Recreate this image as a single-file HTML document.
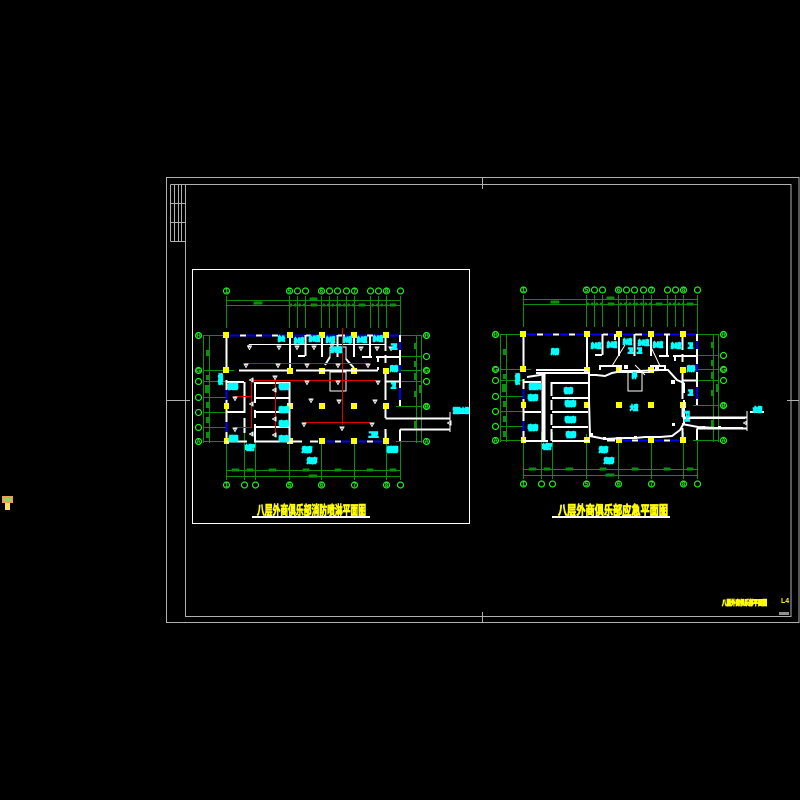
<!DOCTYPE html>
<html><head><meta charset="utf-8"><title>八层外商俱乐部平面图</title>
<style>html,body{margin:0;padding:0;background:#000;width:800px;height:800px;overflow:hidden}svg{display:block}
.g{stroke:#0b900b;stroke-width:1;fill:none;shape-rendering:crispEdges}.b{stroke:#1cf01c;stroke-width:1.2;fill:#000}.n{fill:#1cf01c;font:bold 6px "Liberation Sans",sans-serif;text-anchor:middle}.w{stroke:#fff;fill:none;stroke-width:2}.t{stroke:#fff;fill:none;stroke-width:1}.r{stroke:#e00000;fill:none;stroke-width:1;shape-rendering:crispEdges}.bl{stroke:#0000f0;fill:none;stroke-width:2;shape-rendering:crispEdges}
.c{fill:#0ff;stroke:#0ff;stroke-width:1.5;font:bold 6px "Liberation Sans","Noto Sans CJK SC",sans-serif}
.d{fill:#0b900b;stroke:#0b900b;stroke-width:1.2;font:bold 3px "Liberation Sans",sans-serif}
.y{fill:#ff0;stroke:#ff0;stroke-width:.8;font:bold 13px "Noto Sans CJK SC",sans-serif}</style></head>
<body><svg width="800" height="800" viewBox="0 0 800 800" xmlns="http://www.w3.org/2000/svg">
<defs>
<g id="h"><path class="t" d="M-2.5 0H2.5M0 0V4"/><path d="M-1.5 1L1.5 1L0 3.5Z" fill="#000" stroke="#fff" stroke-width=".8"/></g>
<g id="hl"><path class="t" d="M0 -2.5V2.5M0 0H-4"/><path d="M-1 -1.5V1.5L-3.5 0Z" fill="#000" stroke="#fff" stroke-width=".8"/></g>
<g id="plan">
<path class="g" d="M226.5 296V328M289.5 296V328M297.5 296V328M305.5 296V328M321.5 296V328M329.5 296V328M337.5 296V328M346.5 296V328M354.5 296V328M370.5 296V328M378.5 296V328M386.5 296V328M400.5 296V335"/>
<path class="g" d="M226 300.5H400M226 305.5H400M226.5 380V480M244.5 433V480M255.5 433V480M289.5 435V480M321.5 441V480M354.5 441V480M386.5 433V480M400.5 433V480M226 470.5H400M226 476.5H400"/>
<path class="g" d="M203 335.5H226M203 370.5H234M203 381.5H226M203 397.5H226M203 412.5H226M203 427.5H226M203 441.5H234M203.5 335V443M209.5 335V443M396 335.5H422M396 356.5H422M396 370.5H422M396 381.5H422M396 406.5H422M396 441.5H422M416.5 335V443M421.5 335V443"/>
<g class="d">
<text x="254" y="304" textLength="8">24000</text><text x="310" y="300" textLength="7">24000</text><text x="290" y="306" textLength="15">6000</text><text x="311" y="306" textLength="6">6000</text><text x="323" y="306" textLength="15">6000</text><text x="339" y="306" textLength="15">6000</text><text x="359" y="306" textLength="6">6000</text><text x="372" y="306" textLength="15">6000</text><text x="390" y="306" textLength="6">6000</text>
<text x="232" y="471" textLength="7">6000</text><text x="247" y="471" textLength="6">6000</text><text x="269" y="471" textLength="7">6000</text><text x="303" y="471" textLength="6">6000</text><text x="335" y="471" textLength="6">6000</text><text x="367" y="471" textLength="6">6000</text><text x="390" y="471" textLength="6">6000</text><text x="309" y="477" textLength="8">24000</text>
</g>
<path d="M206 350h3v6h-3zM206 375h3v5h-3zM205 385h4v8h-4zM206 402h3v6h-3zM206 417h3v6h-3zM206 432h3v6h-3zM414 343h3v6h-3zM414 361h3v6h-3zM414 373h3v7h-3zM419 385h3v8h-3zM414 391h3v6h-3zM414 421h3v7h-3z" fill="#0b900b"/>
<g class="b">
<circle cx="226.5" cy="291" r="3"/><circle cx="289.5" cy="291" r="3"/><circle cx="297.5" cy="291" r="3"/><circle cx="305.5" cy="291" r="3"/><circle cx="321.5" cy="291" r="3"/><circle cx="329.5" cy="291" r="3"/><circle cx="337.5" cy="291" r="3"/><circle cx="346.5" cy="291" r="3"/><circle cx="354.5" cy="291" r="3"/><circle cx="370.5" cy="291" r="3"/><circle cx="378.5" cy="291" r="3"/><circle cx="386.5" cy="291" r="3"/><circle cx="400.5" cy="291" r="3"/>
<circle cx="198.5" cy="335.5" r="3"/><circle cx="198.5" cy="370.5" r="3"/><circle cx="198.5" cy="381.5" r="3"/><circle cx="198.5" cy="397.5" r="3"/><circle cx="198.5" cy="412.5" r="3"/><circle cx="198.5" cy="427.5" r="3"/><circle cx="198.5" cy="441.5" r="3"/>
<circle cx="426.5" cy="335.5" r="3"/><circle cx="426.5" cy="356.5" r="3"/><circle cx="426.5" cy="370.5" r="3"/><circle cx="426.5" cy="381.5" r="3"/><circle cx="426.5" cy="406.5" r="3"/><circle cx="426.5" cy="441.5" r="3"/>
<circle cx="226.5" cy="485" r="3"/><circle cx="244.5" cy="485" r="3"/><circle cx="255.5" cy="485" r="3"/><circle cx="289.5" cy="485" r="3"/><circle cx="321.5" cy="485" r="3"/><circle cx="354.5" cy="485" r="3"/><circle cx="386.5" cy="485" r="3"/><circle cx="400.5" cy="485" r="3"/>
</g>
<g class="n">
<text x="226.5" y="293">1</text><text x="289.5" y="293">5</text><text x="321.5" y="293">6</text><text x="354.5" y="293">7</text><text x="386.5" y="293">8</text>
<text x="198.5" y="337.5">H</text><text x="198.5" y="372.5">G</text><text x="198.5" y="443.5">A</text><text x="426.5" y="337.5">H</text><text x="426.5" y="372.5">G</text><text x="426.5" y="408.5">B</text><text x="426.5" y="443.5">A</text>
<text x="226.5" y="487">1</text><text x="289.5" y="487">5</text><text x="321.5" y="487">6</text><text x="354.5" y="487">7</text><text x="386.5" y="487">8</text>
</g>
<path class="bl" d="M229 335.5H400M226.5 390V400M226.5 422V432M400 342V350M400 365V373M400 388V400M325 441.5H335M341 441.5H351M357 441.5H367M373 441.5H385"/>
<path class="w" stroke-dasharray="6 10" d="M240 335.5H286"/>
<path class="w" d="M306 335.5H311M338 335.5H345M367 335.5H373M226.5 336V370M226.5 380V390M226.5 400V422M226.5 432V441M400 335V342M400 350V365M400 373V388M400 400V406M385.5 336V351M385.5 355V363M385.5 373V400M385.5 408V418M385.5 429V441M385.5 418.5H450M400 429.5H450M400 429.5V441M453 413H467M310 441.5H318M335 441.5H341M351 441.5H357M367 441.5H373"/>
<path class="t" d="M450 412V432"/>
<path class="w" d="M290 335V370M305.5 335V356M305 356H298M318 335V341M322 335V357M337.5 335V357M354 335V357M370 335V357M376 357H400M378 357V362M386 381.5H400M362 357H372"/>
<g fill="#ff0">
<rect x="223" y="332" width="6" height="6"/><rect x="287" y="332" width="6" height="6"/><rect x="319" y="332" width="6" height="6"/><rect x="351" y="332" width="6" height="6"/><rect x="383" y="332" width="6" height="6"/>
<rect x="223" y="367" width="6" height="6"/><rect x="287" y="368" width="6" height="6"/><rect x="319" y="368" width="6" height="6"/><rect x="351" y="368" width="6" height="6"/><rect x="383" y="368" width="6" height="6"/>
<rect x="224" y="403" width="5" height="6"/><rect x="287" y="403" width="6" height="6"/><rect x="319" y="403" width="6" height="6"/><rect x="351" y="403" width="6" height="6"/><rect x="383" y="403" width="6" height="6"/>
<rect x="224" y="438" width="5" height="6"/><rect x="287" y="438" width="6" height="6"/><rect x="319" y="438" width="6" height="6"/><rect x="351" y="438" width="6" height="6"/><rect x="383" y="438" width="6" height="6"/>
</g>
</g>
</defs>

<g fill="none" stroke="#b0b0b0" stroke-width="1" shape-rendering="crispEdges">
<rect x="166.5" y="177.5" width="632.5" height="445"/>
<rect x="185.5" y="184.5" width="605.5" height="432"/>
<path d="M170.5 184.5V241.5M174.5 184.5V241.5M178.5 184.5V241.5M181.5 184.5V241.5M170.5 184.5H185M170.5 203.5H185M170.5 222.5H185M170.5 241.5H185"/>
<path d="M482.5 177V189M482.5 612V623M166 400.5H190M787 400.5H799"/>
</g>
<rect x="779" y="612" width="10" height="3" fill="#909090"/>
<text x="722" y="605" class="y" style="font-size:7px;stroke-width:1" textLength="45" lengthAdjust="spacingAndGlyphs">八层外商俱乐部平面图</text>
<text x="781" y="603" style="font:bold 7px 'Liberation Sans',sans-serif;fill:#ff0">L4</text>

<rect x="2" y="496" width="11" height="7" fill="#f0a050"/><rect x="4" y="498" width="8" height="3" fill="#9c6"/><rect x="5" y="503" width="5" height="7" fill="#fd6"/>

<!-- LEFT PLAN -->
<rect x="192.5" y="269.5" width="277" height="254" fill="none" stroke="#fff" stroke-width="1" shape-rendering="crispEdges"/>
<use href="#plan"/>
<path class="w" d="M239 370.5H288M296 370.5H322M322 370.5H378M378 367V370M244.5 382V413M244.5 418V433M226 382H244M226 412H245M255 382V403M255 410V418M255 424V441M289.5 382V441M254 383H290M254 398H290M254 412H290M254 427H290M226 441.5H247M254 441.5H302"/>
<path class="t" d="M249 344.5H385M249 344.5V349M330 347H346V360M330 357V347M330 372V391H346V372ZM329.5 372H346"/>
<path class="w" stroke-width="1" d="M325 365L330 357M346 359L354 368"/>
<path class="r" d="M342.5 328V425M245 363.5H369M251 380.5H376M251.5 380V428M275.5 380V435M235 396.5H251M235 427.5H251M305 422.5H370"/>
<g>
<use href="#h" x="249.5" y="346"/><use href="#h" x="279" y="346"/><use href="#h" x="297" y="346"/><use href="#h" x="314" y="346"/><use href="#h" x="332" y="344"/><use href="#h" x="350" y="340"/><use href="#h" x="361" y="347"/><use href="#h" x="377" y="347"/><use href="#h" x="391" y="347"/>
<use href="#h" x="246" y="364"/><use href="#h" x="278" y="364"/><use href="#h" x="307" y="364"/><use href="#h" x="338" y="364"/><use href="#h" x="368" y="364"/>
<use href="#h" x="307" y="381"/><use href="#h" x="275" y="376"/><use href="#h" x="338" y="381"/><use href="#h" x="378" y="381"/>
<use href="#h" x="235" y="397"/><use href="#h" x="311" y="399"/><use href="#h" x="339" y="400"/><use href="#h" x="375" y="400"/><use href="#h" x="304" y="423"/><use href="#h" x="342" y="427"/><use href="#h" x="372" y="423"/><use href="#h" x="235" y="428"/>
<use href="#hl" x="253" y="380"/><use href="#hl" x="253" y="404"/><use href="#hl" x="253" y="434"/><use href="#hl" x="276" y="390"/><use href="#hl" x="276" y="419"/><use href="#hl" x="276" y="435"/>
<use href="#hl" x="451" y="423"/>
</g>
<g class="c" lengthAdjust="spacingAndGlyphs">
<text x="278" y="341" textLength="7" lengthAdjust="spacingAndGlyphs">办公</text><text x="294" y="343" textLength="10" lengthAdjust="spacingAndGlyphs">办公室</text><text x="309" y="341" textLength="11" lengthAdjust="spacingAndGlyphs">办公室</text><text x="326" y="342" textLength="9" lengthAdjust="spacingAndGlyphs">办公室</text>
<text x="331" y="352" textLength="11" lengthAdjust="spacingAndGlyphs">办公室</text><text x="343" y="342" textLength="9" lengthAdjust="spacingAndGlyphs">办公室</text><text x="357" y="342" textLength="10" lengthAdjust="spacingAndGlyphs">办公室</text><text x="373" y="341" textLength="10" lengthAdjust="spacingAndGlyphs">办公室</text><text x="391" y="349" textLength="6" lengthAdjust="spacingAndGlyphs">卫</text><text x="390" y="371" textLength="8" lengthAdjust="spacingAndGlyphs">库房</text><text x="391" y="388" textLength="5" lengthAdjust="spacingAndGlyphs">卫</text>
<text x="218" y="383" style="font-size:11px" textLength="5" lengthAdjust="spacingAndGlyphs">楼</text><text x="228" y="389" textLength="10" lengthAdjust="spacingAndGlyphs">楼梯</text><text x="279" y="389" textLength="10" lengthAdjust="spacingAndGlyphs">客房</text><text x="279" y="412" textLength="10" lengthAdjust="spacingAndGlyphs">客房</text><text x="279" y="426" textLength="10" lengthAdjust="spacingAndGlyphs">客房</text><text x="279" y="441" textLength="10" lengthAdjust="spacingAndGlyphs">客房</text><text x="229" y="441" textLength="9" lengthAdjust="spacingAndGlyphs">楼梯</text><text x="245" y="450" textLength="10" lengthAdjust="spacingAndGlyphs">电梯厅</text><text x="302" y="452" textLength="10" lengthAdjust="spacingAndGlyphs">走廊</text><text x="307" y="463" textLength="10" lengthAdjust="spacingAndGlyphs">走廊</text><text x="369" y="437" textLength="9" lengthAdjust="spacingAndGlyphs">卫</text><text x="387" y="452" textLength="11" lengthAdjust="spacingAndGlyphs">楼梯</text><text x="453" y="413" textLength="16" lengthAdjust="spacingAndGlyphs">消防水箱</text>
</g>
<text class="y" x="257" y="515" textLength="109" lengthAdjust="spacingAndGlyphs">八层外商俱乐部消防喷淋平面图</text>
<path d="M252 517H370" stroke="#fff" stroke-width="2"/>

<!-- RIGHT PLAN -->
<use href="#plan" transform="translate(297,-1)"/>
<path class="w" d="M536 370H588M536 373H588M527 377L540 375L546 373M588 375H596L605 376L612 373L622 371H640L660 370H668L677 380L684 383M684 383V393M684 400V423L680 430L672 436L660 437H645L635 438H625L605 439L590 436L589 400V372M682 424L698 427L716 428H743M683 418H745M552 383H588M552 398H588M552 412H588M552 427H588M523 382H541M523 412H541M523 441H548M552 441H590M551.5 382V396M551.5 400V410M551.5 414V425M551.5 429V441M620 366V372M620 372H650"/>
<path d="M543.5 373V440" stroke="#fff" stroke-width="4" fill="none"/>
<path class="w" d="M600 370V366H622M650 366H665V370"/>
<path class="t" d="M628 373V391H642V373M612 366L625 345M635 365L645 375M650 345L660 366"/>
<g fill="#fff"><rect x="624" y="365" width="4" height="4"/><rect x="671" y="380" width="4" height="4"/><rect x="655" y="366" width="4" height="4"/><rect x="603" y="437" width="3" height="3"/><rect x="590" y="433" width="3" height="3"/><rect x="634" y="436" width="3" height="3"/><rect x="702" y="426" width="3" height="3"/><rect x="718" y="426" width="3" height="3"/><rect x="672" y="423" width="3" height="3"/></g>
<use href="#hl" x="747" y="423"/>
<g class="c">
<text x="551" y="354" textLength="8" lengthAdjust="spacingAndGlyphs">库房</text><text x="591" y="348" textLength="10" lengthAdjust="spacingAndGlyphs">办公室</text><text x="607" y="347" textLength="10" lengthAdjust="spacingAndGlyphs">办公室</text><text x="623" y="344" textLength="9" lengthAdjust="spacingAndGlyphs">办公室</text><text x="638" y="345" textLength="11" lengthAdjust="spacingAndGlyphs">办公室</text><text x="653" y="347" textLength="10" lengthAdjust="spacingAndGlyphs">办公室</text><text x="671" y="348" textLength="10" lengthAdjust="spacingAndGlyphs">办公室</text><text x="688" y="348" textLength="5" lengthAdjust="spacingAndGlyphs">卫</text>
<text x="628" y="353" textLength="5" lengthAdjust="spacingAndGlyphs">卫</text><text x="637" y="353" textLength="5" lengthAdjust="spacingAndGlyphs">卫</text><text x="632" y="378" textLength="5" lengthAdjust="spacingAndGlyphs">井</text><text x="687" y="371" textLength="8" lengthAdjust="spacingAndGlyphs">库房</text><text x="688" y="395" textLength="5" lengthAdjust="spacingAndGlyphs">卫</text>
<text x="515" y="383" style="font-size:11px" textLength="5" lengthAdjust="spacingAndGlyphs">楼</text><text x="529" y="389" textLength="12" lengthAdjust="spacingAndGlyphs">楼梯间</text><text x="528" y="400" textLength="10" lengthAdjust="spacingAndGlyphs">客房</text><text x="528" y="430" textLength="10" lengthAdjust="spacingAndGlyphs">客房</text><text x="564" y="393" textLength="9" lengthAdjust="spacingAndGlyphs">客房</text><text x="565" y="406" textLength="11" lengthAdjust="spacingAndGlyphs">客房</text><text x="565" y="422" textLength="11" lengthAdjust="spacingAndGlyphs">客房</text><text x="566" y="437" textLength="10" lengthAdjust="spacingAndGlyphs">客房</text><text x="630" y="410" textLength="8" lengthAdjust="spacingAndGlyphs">大堂</text><text x="684" y="420" style="font-size:11px" textLength="6" lengthAdjust="spacingAndGlyphs">卫</text><text x="542" y="449" textLength="10" lengthAdjust="spacingAndGlyphs">电梯厅</text><text x="599" y="452" textLength="9" lengthAdjust="spacingAndGlyphs">走廊</text><text x="604" y="463" textLength="10" lengthAdjust="spacingAndGlyphs">走廊</text><text x="753" y="412" textLength="9" lengthAdjust="spacingAndGlyphs">水箱</text>
</g>
<text class="y" x="558" y="515" textLength="110" lengthAdjust="spacingAndGlyphs">八层外商俱乐部应急平面图</text>
<path d="M552 517H670" stroke="#fff" stroke-width="2"/>
</svg></body></html>
